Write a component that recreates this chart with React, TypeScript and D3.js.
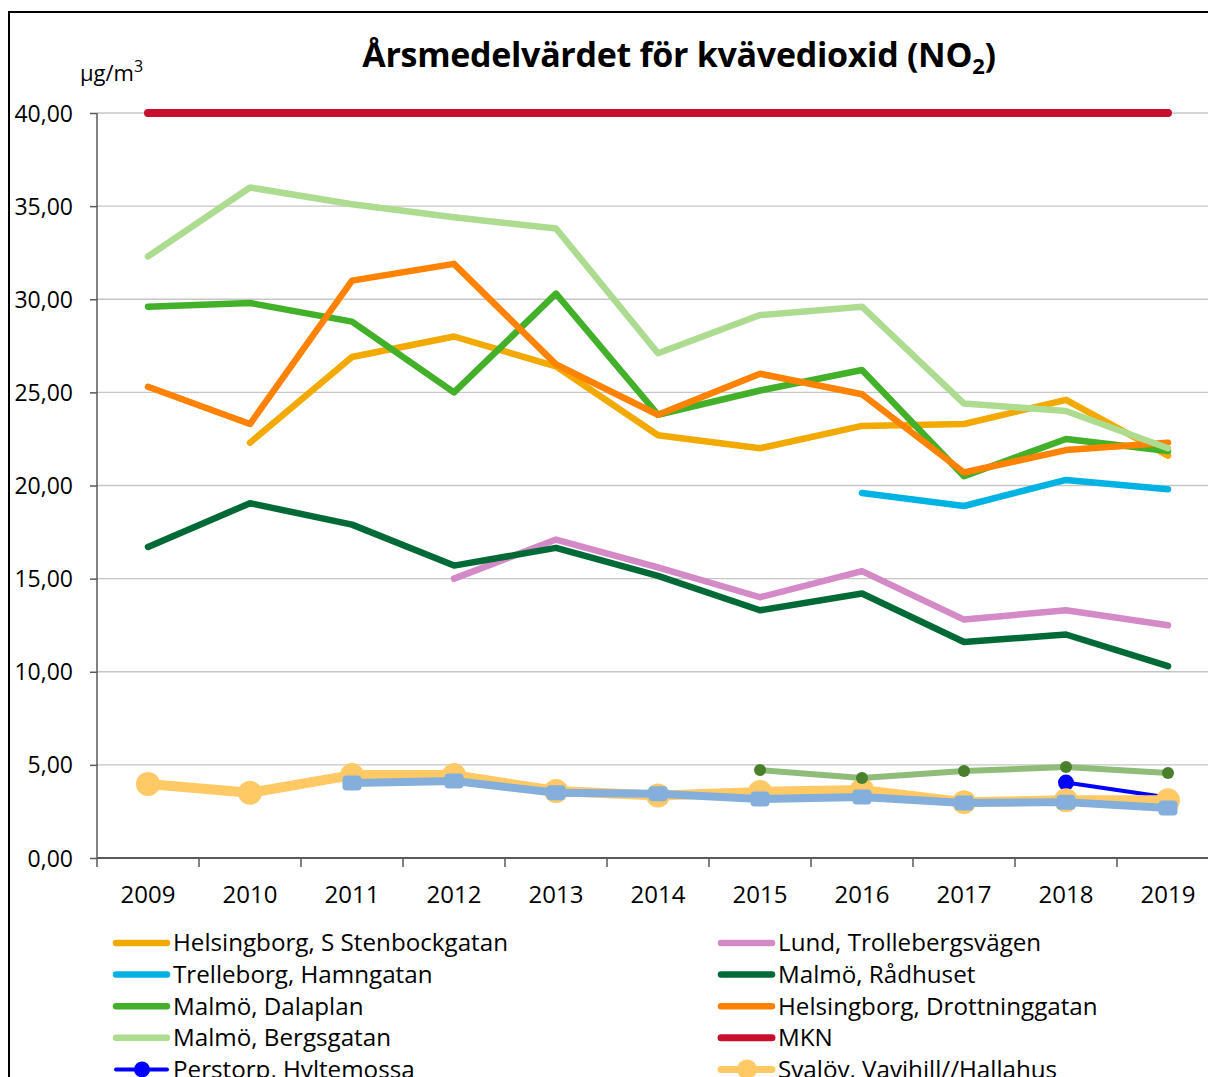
import React, { useEffect, useRef } from 'react';
import * as d3 from 'd3';

// År på x-axeln
const years = ['2009', '2010', '2011', '2012', '2013', '2014', '2015', '2016', '2017', '2018', '2019'];
const yTicks = [0, 5, 10, 15, 20, 25, 30, 35, 40];

// Årsmedelvärden NO2 (µg/m3), null = ingen mätning
const helsingborgS = [null, 22.3, 26.9, 28.0, 26.4, 22.7, 22.0, 23.2, 23.3, 24.6, 21.6];
const lund = [null, null, null, 15.0, 17.1, 15.6, 14.0, 15.4, 12.8, 13.3, 12.5];
const trelleborg = [null, null, null, null, null, null, null, 19.6, 18.9, 20.3, 19.8];
const radhuset = [16.7, 19.05, 17.9, 15.7, 16.65, 15.15, 13.3, 14.2, 11.6, 12.0, 10.3];
const dalaplan = [29.6, 29.8, 28.8, 25.0, 30.3, 23.8, 25.1, 26.2, 20.5, 22.5, 21.85];
const drottninggatan = [25.3, 23.3, 31.0, 31.9, 26.5, 23.8, 26.0, 24.9, 20.7, 21.9, 22.3];
const bergsgatan = [32.3, 36.0, 35.1, 34.4, 33.8, 27.1, 29.15, 29.6, 24.4, 24.0, 22.0];
const mkn = [40, 40, 40, 40, 40, 40, 40, 40, 40, 40, 40];
const svalov = [3.97, 3.5, 4.45, 4.45, 3.6, 3.35, 3.55, 3.65, 3.0, 3.1, 3.1];
const perstorp = [null, null, null, null, null, null, null, null, null, 4.05, 3.25];
const blaGra = [null, null, 4.03, 4.13, 3.5, 3.45, 3.17, 3.27, 2.95, 3.0, 2.68];
const graGron = [null, null, null, null, null, null, 4.72, 4.3, 4.67, 4.88, 4.56];

type Serie = {
  name: string;
  values: (number | null)[];
  color: string;
  width: number;
  marker?: 'circle' | 'square';
  markerSize?: number;
  markerColor?: string;
  legend?: [number, number];
};

// ritordning (sist ritad hamnar överst)
const series: Serie[] = [
  { name: 'Helsingborg, S Stenbockgatan', values: helsingborgS, color: '#F2A900', width: 6.5, legend: [0, 0] },
  { name: 'Lund, Trollebergsvägen', values: lund, color: '#D48AC6', width: 6.5, legend: [1, 0] },
  { name: 'Trelleborg, Hamngatan', values: trelleborg, color: '#00B3E3', width: 6.5, legend: [0, 1] },
  { name: 'Malmö, Rådhuset', values: radhuset, color: '#006A36', width: 6.5, legend: [1, 1] },
  { name: 'Malmö, Dalaplan', values: dalaplan, color: '#43B02A', width: 6.5, legend: [0, 2] },
  { name: 'Helsingborg, Drottninggatan', values: drottninggatan, color: '#FF8200', width: 6.5, legend: [1, 2] },
  { name: 'Malmö, Bergsgatan', values: bergsgatan, color: '#ADDC91', width: 6.5, legend: [0, 3] },
  { name: 'MKN', values: mkn, color: '#C8102E', width: 8, legend: [1, 3] },
  { name: 'Perstorp, Hyltemossa', values: perstorp, color: '#0000FF', width: 4, marker: 'circle', markerSize: 8, legend: [0, 4] },
  { name: 'Svalöv, Vavihill//Hallahus', values: svalov, color: '#FFC966', width: 10, marker: 'circle', markerSize: 12, legend: [1, 4] },
  { name: 'blaGra', values: blaGra, color: '#84AEDC', width: 8, marker: 'square', markerSize: 15 },
  { name: 'graGron', values: graGron, color: '#8FBC78', width: 6, marker: 'circle', markerSize: 6, markerColor: '#4A7F2C' },
];

const W = 1208;
const H = 1077;
const FONT = '"Open Sans", Lato, sans-serif';

const App = () => {
  const svgRef = useRef<SVGSVGElement>(null);

  useEffect(() => {
    const svg = d3.select(svgRef.current);
    svg.selectAll('*').remove();

    const left = 97;
    const step = 102;
    const x = d3.scaleBand().domain(years).range([left, left + step * years.length]).padding(0);
    const cx = (yr: string) => (x(yr) as number) + x.bandwidth() / 2;
    const y = d3.scaleLinear().domain([0, 40]).range([858, 113]);
    const fmt = (v: number) => d3.format('.2f')(v).replace('.', ',');

    // ram
    svg.append('rect')
      .attr('x', 9).attr('y', 12)
      .attr('width', W + 20).attr('height', H + 20)
      .attr('fill', '#fff').attr('stroke', '#000').attr('stroke-width', 2);

    // rutnät
    svg.append('g').selectAll('line')
      .data(yTicks.filter(t => t > 0))
      .join('line')
      .attr('x1', left).attr('x2', left + step * years.length)
      .attr('y1', d => y(d)).attr('y2', d => y(d))
      .attr('stroke', '#C6C6C6').attr('stroke-width', 1.3);

    // y-axel
    const yAxis = svg.append('g')
      .attr('transform', `translate(${left},0)`)
      .call(d3.axisLeft(y).tickValues(yTicks).tickSize(7).tickFormat(d => fmt(d as number)));
    yAxis.select('.domain').remove();
    yAxis.selectAll('line').attr('stroke', '#595959').attr('stroke-width', 1.5);
    yAxis.selectAll('text').attr('font-family', FONT).attr('font-size', 23).attr('fill', '#000').attr('x', -24).attr('dy', '0.35em');
    svg.append('line')
      .attr('x1', left).attr('x2', left).attr('y1', y(40)).attr('y2', y(0) + 9)
      .attr('stroke', '#595959').attr('stroke-width', 1.5);

    // x-axel
    svg.append('line')
      .attr('x1', left).attr('x2', left + step * years.length).attr('y1', y(0)).attr('y2', y(0))
      .attr('stroke', '#595959').attr('stroke-width', 2);
    svg.append('g').selectAll('line')
      .data(years.slice(1))
      .join('line')
      .attr('x1', d => x(d) as number).attr('x2', d => x(d) as number)
      .attr('y1', y(0)).attr('y2', y(0) + 9)
      .attr('stroke', '#595959').attr('stroke-width', 1.5);
    svg.append('g').selectAll('text')
      .data(years)
      .join('text')
      .attr('x', d => cx(d)).attr('y', 903)
      .attr('text-anchor', 'middle')
      .attr('font-family', FONT).attr('font-size', 24)
      .text(d => d);

    // titel
    const title = svg.append('text')
      .attr('x', 679).attr('y', 67)
      .attr('text-anchor', 'middle')
      .attr('font-family', FONT).attr('font-size', 34).attr('font-weight', 'bold')
      .attr('letter-spacing', -0.3);
    title.append('tspan').text('Årsmedelvärdet för kvävedioxid (NO');
    title.append('tspan').attr('font-size', 22).attr('dy', 7).text('2');
    title.append('tspan').attr('dy', -7).text(')');

    // enhet
    const unit = svg.append('text')
      .attr('x', 80).attr('y', 81)
      .attr('font-family', FONT).attr('font-size', 22);
    unit.append('tspan').text('µg/m');
    unit.append('tspan').attr('font-size', 16).attr('dy', -9).text('3');

    // linjer
    const line = d3.line<number | null>()
      .defined(d => d !== null)
      .x((d, i) => cx(years[i]))
      .y(d => y(d as number));

    const drawMarker = (g: d3.Selection<SVGGElement, unknown, null, undefined>, s: Serie, px: number, py: number) => {
      const fill = s.markerColor || s.color;
      if (s.marker === 'circle') {
        g.append('circle').attr('cx', px).attr('cy', py).attr('r', s.markerSize as number).attr('fill', fill);
      } else if (s.marker === 'square') {
        const m = s.markerSize as number;
        g.append('rect').attr('x', px - m / 2 - 2).attr('y', py - m / 2)
          .attr('width', m + 4).attr('height', m).attr('rx', 4).attr('fill', fill);
      }
    };

    const plot = svg.append('g');
    series.forEach(s => {
      plot.append('path')
        .attr('d', line(s.values))
        .attr('fill', 'none')
        .attr('stroke', s.color)
        .attr('stroke-width', s.width)
        .attr('stroke-linecap', 'round')
        .attr('stroke-linejoin', 'round');
      if (s.marker) {
        const g = plot.append('g');
        s.values.forEach((v, i) => {
          if (v !== null) drawMarker(g, s, cx(years[i]), y(v));
        });
      }
    });

    // teckenförklaring
    const legend = svg.append('g');
    series.filter(s => s.legend).forEach(s => {
      const [col, row] = s.legend as [number, number];
      const lx = col === 0 ? 113 : 718;
      const ly = 943 + row * 31.6;
      legend.append('line')
        .attr('x1', lx + 3).attr('x2', lx + 54).attr('y1', ly).attr('y2', ly)
        .attr('stroke', s.color).attr('stroke-width', Math.min(s.width, 7)).attr('stroke-linecap', 'round');
      if (s.marker) drawMarker(legend, { ...s, markerSize: (s.markerSize as number) > 9 ? 10 : 8 }, lx + 29, ly);
      legend.append('text')
        .attr('x', lx + 60).attr('y', ly).attr('dy', '0.35em')
        .attr('font-family', FONT).attr('font-size', 24.2)
        .text(s.name);
    });
  }, []);

  return (
    <svg
      ref={svgRef}
      width={W}
      height={H}
      style={{ position: 'absolute', left: 0, top: 0, background: '#fff' }}
    />
  );
};

export default App;
